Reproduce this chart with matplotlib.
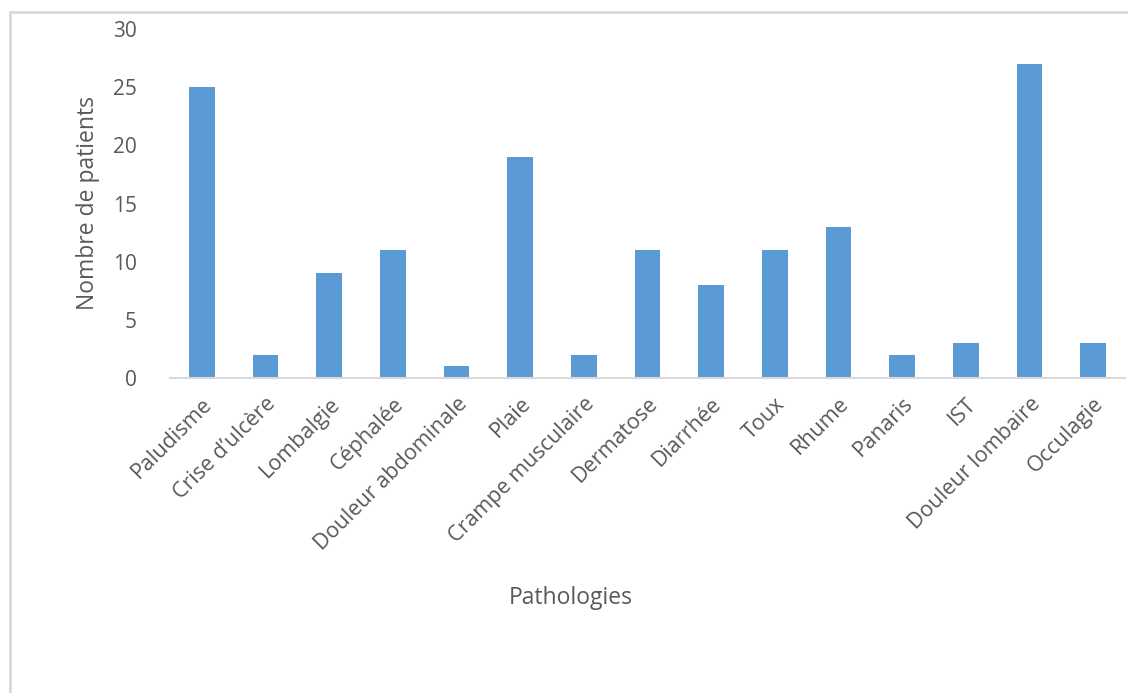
import matplotlib
matplotlib.use("Agg")
import matplotlib.pyplot as plt
from matplotlib.patches import Rectangle

pathologies = ["Paludisme", "Crise d\u2019ulc\u00e8re", "Lombalgie", "C\u00e9phal\u00e9e",
               "Douleur abdominale", "Plaie", "Crampe musculaire", "Dermatose",
               "Diarrh\u00e9e", "Toux", "Rhume", "Panaris", "IST",
               "Douleur lombaire", "Occulagie"]
patients = [25, 2, 9, 11, 1, 19, 2, 11, 8, 11, 13, 2, 3, 27, 3]
y_ticks = [0, 5, 10, 15, 20, 25, 30]

plt.rcParams['font.family'] = ['Open Sans', 'DejaVu Sans']
text_color = "#595959"

fig = plt.figure(figsize=(11.28, 6.93), dpi=100)
ax = fig.add_axes([170 / 1128, 1 - 378 / 693, 955 / 1128, 349 / 693])

x = range(len(pathologies))
ax.bar(x, patients, width=0.4, color="#5B9BD5", zorder=2)
ax.set_xlim(-0.5, len(pathologies) - 0.5)
ax.set_ylim(0, 30)
ax.set_yticks(y_ticks)
ax.set_yticklabels([str(v) for v in y_ticks], fontsize=15, color=text_color)
ax.set_xticks(list(x))
ax.set_xticklabels(pathologies, rotation=45, ha="right", rotation_mode="anchor",
                   fontsize=15.5, color=text_color)
ax.tick_params(axis="both", length=0)
ax.tick_params(axis="y", pad=24)
ax.tick_params(axis="x", pad=11)

for side in ["top", "right", "left"]:
    ax.spines[side].set_visible(False)
ax.spines["bottom"].set_color("#d9d9d9")
ax.spines["bottom"].set_linewidth(1.5)

fig.text(88 / 1128, 1 - 203 / 693, "Nombre de patients", rotation=90,
         ha="center", va="center", fontsize=16.5, color=text_color)
fig.text(571 / 1128, 1 - 598 / 693, "Pathologies", ha="center", va="center",
         fontsize=16.5, color=text_color)

# chart border (cropped on the right and bottom)
fig.patches.append(Rectangle((10 / 1128, -0.1), 1.2, 1.1 - 12 / 693,
                             transform=fig.transFigure, fill=False,
                             edgecolor="#d9d9d9", linewidth=2))

fig.savefig("out.png", dpi=100)
